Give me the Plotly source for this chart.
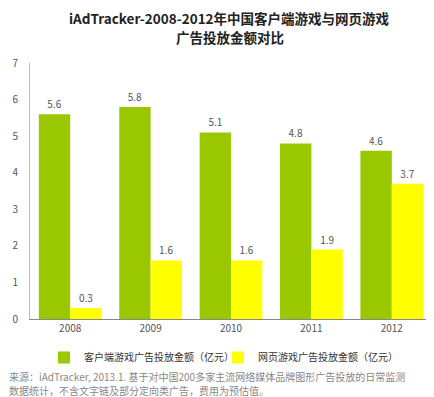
import plotly.graph_objects as go

years = ["2008", "2009", "2010", "2011", "2012"]
client_game = [5.6, 5.8, 5.1, 4.8, 4.6]
web_game = [0.3, 1.6, 1.6, 1.9, 3.7]
series_names = ["客户端游戏广告投放金额（亿元）", "网页游戏广告投放金额（亿元）"]
y_ticks = [0, 1, 2, 3, 4, 5, 6, 7]
title_lines = ["iAdTracker-2008-2012年中国客户端游戏与网页游戏", "广告投放金额对比"]
source_lines = ["来源：iAdTracker, 2013.1. 基于对中国200多家主流网络媒体品牌图形广告投放的日常监测",
                "数据统计，不含文字链及部分定向类广告，费用为预估值。"]

W, H = 426, 389
ML, MR, MT, MB = 22, 2, 55, 78
PW, PH = W - ML - MR, H - MT - MB


def px(fx):
    return (fx - ML) / PW


def py(fy):
    return (H - MB - fy) / PH


font = "Noto Sans CJK SC"
fig = go.Figure()
fig.add_trace(go.Bar(x=years, y=client_game, name=series_names[0],
                     marker=dict(color="#99C800", line=dict(width=0)),
                     text=[f"{v:.1f}" for v in client_game], textposition="outside",
                     textfont=dict(size=10, color="#555555"), cliponaxis=False))
fig.add_trace(go.Bar(x=years, y=web_game, name=series_names[1],
                     marker=dict(color="#FFFF00", line=dict(width=0)),
                     text=[f"{v:.1f}" for v in web_game], textposition="outside",
                     textfont=dict(size=10, color="#555555"), cliponaxis=False))

fig.update_layout(
    width=W, height=H,
    margin=dict(l=ML, r=MR, t=MT, b=MB, autoexpand=False),
    paper_bgcolor="white", plot_bgcolor="white",
    font=dict(family=font, color="#555555"),
    barmode="group", bargap=0.22, bargroupgap=0,
    showlegend=True,
    legend=dict(orientation="h", xref="container", yref="container",
                x=36 / W, xanchor="left", y=1 - 335 / H, yanchor="top",
                font=dict(size=10, color="#333333"),
                entrywidth=129, entrywidthmode="pixels",
                traceorder="normal"),
    xaxis=dict(showline=True, linecolor="#888888", linewidth=1, ticks="",
               automargin=False, tickfont=dict(size=10, color="#555555")),
    yaxis=dict(range=[0, 7], tickvals=y_ticks, showgrid=False, showline=True,
               linecolor="#BBBBBB", linewidth=1, ticks="", zeroline=False,
               automargin=False, ticklabelstandoff=9,
               tickfont=dict(size=10, color="#555555")),
)
for i, line in enumerate(title_lines):
    fig.add_annotation(
        text=f"<b>{line}</b>", xref="paper", yref="paper",
        x=px(W * 0.52), y=py(10 + 19 * i), xanchor="center", yanchor="middle",
        showarrow=False, borderpad=0,
        font=dict(size=13.5, color="#222222", family=font))
for i, line in enumerate(source_lines):
    fig.add_annotation(
        text=line, xref="paper", yref="paper",
        x=px(0), y=py(368 + 14 * i), xanchor="left", yanchor="middle",
        showarrow=False, borderpad=0,
        font=dict(size=10, color="#888888", family=font))

fig.write_html("out.html")
